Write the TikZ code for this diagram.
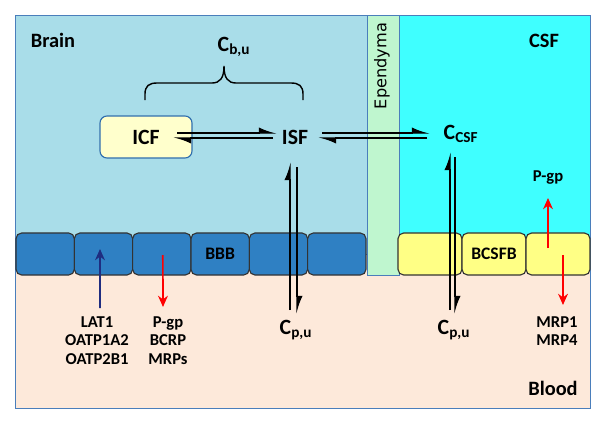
\documentclass[tikz,border=0pt]{standalone}
\usepackage{fontspec}
\setmainfont{Carlito}
\newfontfamily\epfont{DejaVu Sans}
\usetikzlibrary{arrows.meta,positioning}

\definecolor{brainbg}{HTML}{A9DDE9}
\definecolor{epgreen}{HTML}{BFF6CF}
\definecolor{csfcyan}{HTML}{3FFFFF}
\definecolor{bloodbg}{HTML}{FDE9DA}
\definecolor{bbbblue}{HTML}{2F80C3}
\definecolor{cellyellow}{HTML}{FFFF85}
\definecolor{icffill}{HTML}{FFFFCC}
\definecolor{icfborder}{HTML}{2F6EAE}
\definecolor{framecol}{HTML}{4A7EBB}
\definecolor{navyarrow}{HTML}{1F2D80}

\begin{document}
\begin{tikzpicture}[x=0.025cm,y=-0.025cm]

        % Setup the styles
        \tikzset{region/.style={draw=framecol, line width=0.6pt},
                 title/.style={font=\bfseries\fontsize{14.5}{17}\selectfont, inner sep=1pt},
                 big/.style={font=\bfseries\fontsize{15.5}{18}\selectfont, inner sep=1pt},
                 lab/.style={font=\bfseries\fontsize{11.8}{13.2}\selectfont, align=center, inner sep=0pt},
                 cell/.style={rounded corners=4pt, draw=black!80, line width=0.8pt,
                              minimum height=1.05cm,
                              font=\bfseries\fontsize{12.5}{15}\selectfont},
                 bbbcell/.style={cell, fill=bbbblue, minimum width=1.458cm},
                 bcsfbcell/.style={cell, fill=cellyellow, minimum width=1.6cm},
                 eq/.style={line width=0.9pt, -{Latex[harpoon,length=11pt,width=8pt]}},
                 efflux/.style={red, line width=1.2pt, -{Stealth[length=8pt,width=7pt]}},
                 uptake/.style={efflux, navyarrow}}
        \useasboundingbox (0,0) rectangle (600,428);

        % Draw the compartments
        \fill[bloodbg] (15,240) rectangle (590,408);
        \draw[region, fill=brainbg] (15,15) rectangle (367,254);
        \draw[region, fill=csfcyan] (399,15) rectangle (590,254);
        \draw[region, fill=epgreen] (367,15) rectangle (399,275);
        \draw[region] (15,15) rectangle (590,408);

        % Draw the barrier cells
        \foreach \i/\txt in {1/{},2/{},3/{},4/BBB,5/{},6/{}}
            \node[bbbcell] (bbb\i) at ({16+58.33*(\i-0.5)},254) {\txt};
        \foreach \i/\txt in {1/{},2/BCSFB,3/{}}
            \node[bcsfbcell] (bcsfb\i) at ({398+64*(\i-0.5)},254) {\txt};

        % Draw the labels
        \node[title] (brain) at (53,40) {Brain};
        \node[title] (csf) at (544,41) {CSF};
        \node[title] (blood) at (553,388) {Blood};
        \node[rotate=90, font=\epfont\fontsize{11.5}{13}\selectfont] (epend) at (382,66) {Ependyma};

        \node[draw=icfborder, fill=icffill, rounded corners=5pt, line width=0.8pt,
              minimum width=2.3cm, minimum height=1.05cm, big] (icf) at (146,137) {ICF};
        \node[big] (isf) at (295,137) {ISF};
        \node[big] (ccsf) at (461,134) {C\textsubscript{CSF}};
        \node[big] (cbu) at (234,47) {C\textsubscript{b,u}};
        \node[big] (cpu1) at (296,330) {C\textsubscript{p,u}};
        \node[big] (cpu2) at (454,330) {C\textsubscript{p,u}};

        \node[lab, anchor=north] (lat) at (97,316) {LAT1\\OATP1A2\\OATP2B1};
        \node[lab, anchor=north] (pgp) at (168,316) {P-gp\\BCRP\\MRPs};
        \node[lab, anchor=north] (mrp) at (557,316) {MRP1\\MRP4};
        \node[lab] (pgp2) at (548,178) {P-gp};

        % Brace over ICF and ISF
        \draw[line width=1pt] (145,100) -- (145,94) .. controls (145,86) and (149,83) .. (157,83)
            -- (212,83) .. controls (220,83) and (224,78) .. (224,66)
            .. controls (224,78) and (228,83) .. (236,83)
            -- (291,83) .. controls (299,83) and (303,86) .. (303,94) -- (303,100);

        % Connect the compartments
        \draw[eq] ([shift={(31,-4)}]icf.center) -- ([shift={(-18,-4)}]isf.center);
        \draw[eq] ([shift={(-22,1)}]isf.center) -- ([shift={(27,1)}]icf.center);
        \draw[eq] ([shift={(27,-4)}]isf.center) -- ([shift={(-31,-1)}]ccsf.center);
        \draw[eq] ([shift={(-34,4)}]ccsf.center) -- ([shift={(23,1)}]isf.center);
        \draw[eq] ([shift={(-6,-20)}]cpu1.center) -- ([shift={(-5,25)}]isf.center);
        \draw[eq] ([shift={(2,30)}]isf.center) -- ([shift={(1,-16)}]cpu1.center);
        \draw[eq] ([shift={(-4,-20)}]cpu2.center) -- ([shift={(-11,18)}]ccsf.center);
        \draw[eq] ([shift={(-6,23)}]ccsf.center) -- ([shift={(1,-16)}]cpu2.center);

        % Transporters
        \draw[uptake] ([shift={(3,-8)}]lat.north) -- ([shift={(-3.5,-5)}]bbb2.center);
        \draw[efflux] ([shift={(1,1)}]bbb3.center) -- ([shift={(-5,-9)}]pgp.north);
        \draw[efflux] ([shift={(-10,-6)}]bcsfb3.center) -- ([shift={(0,20)}]pgp2.center);
        \draw[efflux] ([shift={(5,1)}]bcsfb3.center) -- ([shift={(6,-11)}]mrp.north);
\end{tikzpicture}
\end{document}
